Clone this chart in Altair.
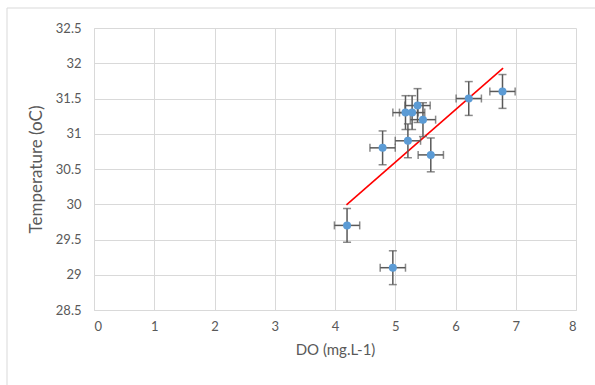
import altair as alt
import pandas as pd

# Data
do_vals = [4.20, 4.96, 4.79, 5.21, 5.59, 5.46, 5.17, 5.28, 5.37, 6.22, 6.78]
temp_vals = [29.7, 29.1, 30.8, 30.9, 30.7, 31.2, 31.3, 31.3, 31.4, 31.5, 31.6]
x_err = [0.21] * len(do_vals)
y_err = [0.24] * len(do_vals)

trend_x = [4.19, 6.79]
trend_y = [29.99, 31.93]

x_ticks = [0, 1, 2, 3, 4, 5, 6, 7, 8]
y_ticks = [28.5, 29, 29.5, 30, 30.5, 31, 31.5, 32, 32.5]

df = pd.DataFrame({
    "DO": do_vals,
    "T": temp_vals,
    "xlo": [a - e for a, e in zip(do_vals, x_err)],
    "xhi": [a + e for a, e in zip(do_vals, x_err)],
    "ylo": [a - e for a, e in zip(temp_vals, y_err)],
    "yhi": [a + e for a, e in zip(temp_vals, y_err)],
})
trend = pd.DataFrame({"DO": trend_x, "T": trend_y})

FONT = "Lato"
GREY = "#595959"
GRID = "#D9D9D9"

xscale = alt.Scale(domain=[0, 8], nice=False, zero=False)
yscale = alt.Scale(domain=[28.5, 32.5], nice=False, zero=False)

xaxis = alt.Axis(values=x_ticks, title="DO (mg.L-1)", grid=True, tickCount=20,
                 labelExpr="'' + datum.value",
                 ticks=False, tickSize=0, labelPadding=10, titlePadding=9,
                 labelOverlap=False, titleFontSize=15)
yaxis = alt.Axis(values=y_ticks, title="Temperature (oC)", grid=True, tickCount=20,
                 labelExpr="'' + datum.value",
                 ticks=False, tickSize=0, labelPadding=13, titlePadding=10,
                 labelOverlap=False, titleFontSize=17)

base = alt.Chart(df)

border = alt.Chart(alt.Data(values=[{}])).mark_rect(
    fillOpacity=0, stroke=GRID, strokeWidth=1
).encode(x=alt.value(-87), x2=alt.value(600), y=alt.value(-20), y2=alt.value(400))

XS = lambda f: alt.X(f, type="quantitative", scale=xscale)
YS = lambda f: alt.Y(f, type="quantitative", scale=yscale)

trend_line = alt.Chart(trend).mark_line(color="#FF0000", strokeWidth=1.6).encode(
    x=XS("DO"), y=YS("T")
)

vbar = base.mark_rule(color=GREY, strokeWidth=1.5).encode(
    x=XS("DO"), y=YS("ylo"), y2="yhi:Q"
)
hbar = base.mark_rule(color=GREY, strokeWidth=1.5).encode(
    y=YS("T"), x=XS("xlo"), x2="xhi:Q"
)
cap_top = base.mark_tick(color=GREY, orient="horizontal", size=8, thickness=1.5).encode(
    x=XS("DO"), y=YS("yhi")
)
cap_bot = base.mark_tick(color=GREY, orient="horizontal", size=8, thickness=1.5).encode(
    x=XS("DO"), y=YS("ylo")
)
cap_l = base.mark_tick(color=GREY, orient="vertical", size=8, thickness=1.5).encode(
    x=XS("xlo"), y=YS("T")
)
cap_r = base.mark_tick(color=GREY, orient="vertical", size=8, thickness=1.5).encode(
    x=XS("xhi"), y=YS("T")
)
axes_layer = base.mark_circle(opacity=0).encode(
    x=alt.X("DO:Q", scale=xscale, axis=xaxis),
    y=alt.Y("T:Q", scale=yscale, axis=yaxis),
)
points = base.mark_circle(color="#5B9BD5", size=64, opacity=1).encode(
    x=XS("DO"), y=YS("T")
)

chart = alt.layer(
    axes_layer, border, trend_line, vbar, hbar, cap_top, cap_bot, cap_l, cap_r, points
).properties(
    width=482, height=282,
    autosize=alt.AutoSizeParams(type="none"),
    padding={"left": 94, "top": 28, "right": 19, "bottom": 75},
).configure_view(
    stroke=None
).configure_axis(
    labelFont=FONT, titleFont=FONT, labelColor=GREY, titleColor=GREY,
    labelFontSize=13, titleFontWeight="normal", labelOverlap=False,
    gridColor=GRID, gridWidth=1, domainColor=GRID, domainWidth=1,
)

chart.save("out.html", embed_options={"renderer": "svg", "actions": False})
